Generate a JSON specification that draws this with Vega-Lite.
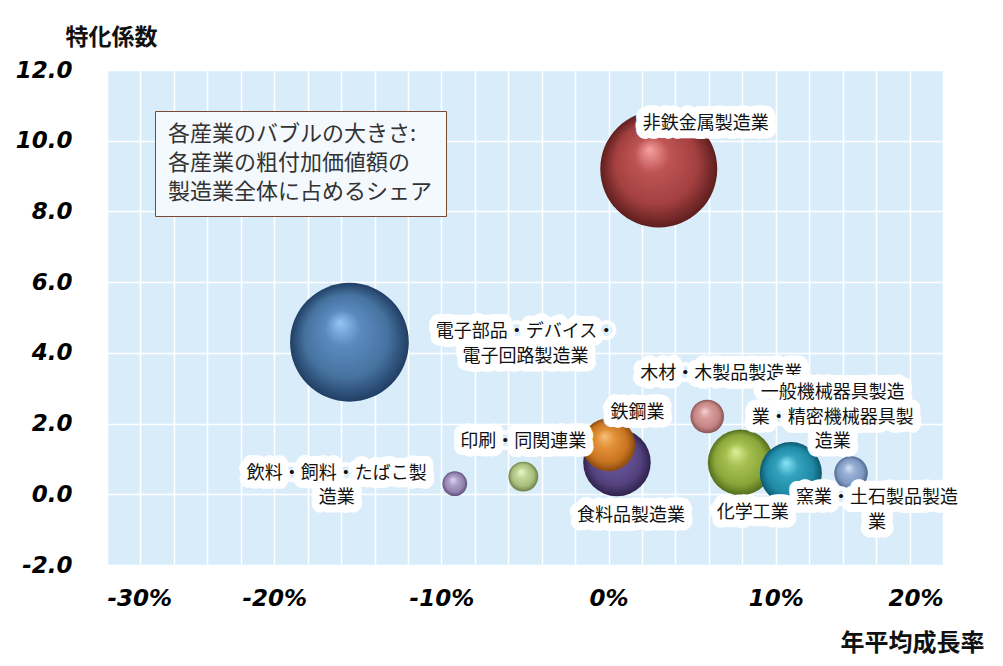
{
  "$schema": "https://vega.github.io/schema/vega-lite/v6.json",
  "width": 836,
  "height": 495,
  "autosize": {"type": "none"},
  "padding": {"left": 107, "top": 70, "right": 60, "bottom": 101},
  "background": "white",
  "config": {
    "view": {"fill": "#d9ecfa", "stroke": null},
    "text": {"font": "Noto Sans CJK JP", "fontSize": 18, "lineBreak": "\n", "lineHeight": 24.5, "baseline": "middle", "align": "center", "fill": "#111111"},
    "style": {
      "halo": {"stroke": "white", "strokeWidth": 16, "strokeJoin": "round", "fill": "white"}
    }
  },
  "data": {
    "values": [
      {"name": "電子部品・デバイス・電子回路製造業", "label": "電子部品・デバイス・\n電子回路製造業", "growth": -15.5, "coef": 4.3, "share": 30.0},
      {"name": "非鉄金属製造業", "label": "非鉄金属製造業", "growth": 3.0, "coef": 9.2, "share": 29.1},
      {"name": "飲料・飼料・たばこ製造業", "label": "飲料・飼料・たばこ製\n造業", "growth": -9.2, "coef": 0.3, "share": 1.3},
      {"name": "印刷・同関連業", "label": "印刷・同関連業", "growth": -5.1, "coef": 0.5, "share": 1.9},
      {"name": "食料品製造業", "label": "食料品製造業", "growth": 0.5, "coef": 0.9, "share": 9.7},
      {"name": "鉄鋼業", "label": "鉄鋼業", "growth": 0.0, "coef": 1.4, "share": 6.0},
      {"name": "木材・木製品製造業", "label": "木材・木製品製造業", "growth": 5.9, "coef": 2.2, "share": 2.4},
      {"name": "化学工業", "label": "化学工業", "growth": 7.9, "coef": 0.9, "share": 9.2},
      {"name": "一般機械器具製造業・精密機械器具製造業", "label": "一般機械器具製造\n業・精密機械器具製\n造業", "growth": 10.9, "coef": 0.6, "share": 8.2},
      {"name": "窯業・土石製品製造業", "label": "窯業・土石製品製造\n業", "growth": 14.5, "coef": 0.6, "share": 2.4}
    ]
  },
  "encoding": {
    "x": {
      "field": "growth", "type": "quantitative",
      "scale": {"domain": [-30, 20], "nice": false, "zero": false},
      "axis": {
        "values": [-30, -28, -26, -24, -22, -20, -18, -16, -14, -12, -10, -8, -6, -4, -2, 0, 2, 4, 6, 8, 10, 12, 14, 16, 18, 20],
        "labelExpr": "datum.value % 10 === 0 ? datum.value + '%' : ''",
        "labelOverlap": false,
        "grid": true, "gridColor": "white", "gridWidth": 1.5, "gridOpacity": 1,
        "ticks": false, "domain": false,
        "labelFont": "DejaVu Sans", "labelFontSize": 23, "labelFontWeight": "bold", "labelFontStyle": "italic", "labelColor": "#000000", "labelPadding": 22,
        "title": "年平均成長率", "titleX": 805, "titleY": 78, "titleAlign": "center", "titleBaseline": "middle",
        "titleFont": "Noto Sans CJK JP", "titleFontSize": 24, "titleFontWeight": "bold", "titleColor": "#111111"
      }
    },
    "y": {
      "field": "coef", "type": "quantitative",
      "scale": {"domain": [-2, 12], "nice": false, "zero": false},
      "axis": {
        "values": [-2, 0, 2, 4, 6, 8, 10, 12],
        "labelExpr": "replace(format(datum.value, '.1f'), '−', '-')",
        "grid": true, "gridColor": "white", "gridWidth": 1.5, "gridOpacity": 1,
        "ticks": false, "domain": false,
        "labelFont": "DejaVu Sans", "labelFontSize": 23, "labelFontWeight": "bold", "labelFontStyle": "italic", "labelColor": "#000000", "labelPadding": 35,
        "title": "特化係数", "titleAngle": 0, "titleX": 4, "titleY": -33, "titleAlign": "center", "titleBaseline": "middle",
        "titleFont": "Noto Sans CJK JP", "titleFontSize": 23, "titleFontWeight": "bold", "titleColor": "#111111"
      }
    }
  },
  "layer": [
    {
      "mark": {"type": "point", "shape": "circle", "filled": true, "opacity": 1, "strokeWidth": 0},
      "encoding": {
        "size": {
          "field": "share", "type": "quantitative",
          "scale": {"domain": [0, 30], "range": [0, 14103]},
          "legend": {
            "values": [],
            "orient": "none", "legendX": 48, "legendY": 41,
            "title": ["各産業のバブルの大きさ:", "各産業の粗付加価値額の", "製造業全体に占めるシェア"],
            "titleFont": "Noto Sans CJK JP", "titleFontSize": 22, "titleFontWeight": "normal", "titleColor": "#333333", "titleLineHeight": 29, "titleLimit": 500, "titlePadding": 0,
            "padding": 13, "strokeColor": "#7a4a30", "fillColor": "#f4f9fe"
          }
        },
        "fill": {
          "condition": [
            {"test": "datum.name === '電子部品・デバイス・電子回路製造業'", "value": {"gradient": "radial", "x1": 0.42, "y1": 0.33, "r1": 0, "x2": 0.5, "y2": 0.5, "r2": 0.5, "stops": [{"offset": 0, "color": "#94c4f4"}, {"offset": 0.3, "color": "#5a8ac0"}, {"offset": 0.7, "color": "#46729f"}, {"offset": 1, "color": "#203e64"}]}},
            {"test": "datum.name === '非鉄金属製造業'", "value": {"gradient": "radial", "x1": 0.42, "y1": 0.33, "r1": 0, "x2": 0.5, "y2": 0.5, "r2": 0.5, "stops": [{"offset": 0, "color": "#f8a0a0"}, {"offset": 0.3, "color": "#be5454"}, {"offset": 0.7, "color": "#a44040"}, {"offset": 1, "color": "#5e1e1e"}]}},
            {"test": "datum.name === '飲料・飼料・たばこ製造業'", "value": {"gradient": "radial", "x1": 0.42, "y1": 0.33, "r1": 0, "x2": 0.5, "y2": 0.5, "r2": 0.5, "stops": [{"offset": 0, "color": "#e2daf2"}, {"offset": 0.35, "color": "#b0a2cc"}, {"offset": 0.75, "color": "#9484b0"}, {"offset": 1, "color": "#5e5078"}]}},
            {"test": "datum.name === '印刷・同関連業'", "value": {"gradient": "radial", "x1": 0.42, "y1": 0.33, "r1": 0, "x2": 0.5, "y2": 0.5, "r2": 0.5, "stops": [{"offset": 0, "color": "#eef8cc"}, {"offset": 0.35, "color": "#c2d698"}, {"offset": 0.75, "color": "#a6bc7c"}, {"offset": 1, "color": "#6e8044"}]}},
            {"test": "datum.name === '食料品製造業'", "value": {"gradient": "radial", "x1": 0.42, "y1": 0.33, "r1": 0, "x2": 0.5, "y2": 0.5, "r2": 0.5, "stops": [{"offset": 0, "color": "#9a88c8"}, {"offset": 0.35, "color": "#685498"}, {"offset": 0.75, "color": "#54427e"}, {"offset": 1, "color": "#30224e"}]}},
            {"test": "datum.name === '鉄鋼業'", "value": {"gradient": "radial", "x1": 0.42, "y1": 0.33, "r1": 0, "x2": 0.5, "y2": 0.5, "r2": 0.5, "stops": [{"offset": 0, "color": "#f8c078"}, {"offset": 0.35, "color": "#e29038"}, {"offset": 0.75, "color": "#c87420"}, {"offset": 1, "color": "#8a4a10"}]}},
            {"test": "datum.name === '木材・木製品製造業'", "value": {"gradient": "radial", "x1": 0.42, "y1": 0.33, "r1": 0, "x2": 0.5, "y2": 0.5, "r2": 0.5, "stops": [{"offset": 0, "color": "#f6d2d2"}, {"offset": 0.35, "color": "#d89c9c"}, {"offset": 0.75, "color": "#c48484"}, {"offset": 1, "color": "#8a5454"}]}},
            {"test": "datum.name === '化学工業'", "value": {"gradient": "radial", "x1": 0.42, "y1": 0.33, "r1": 0, "x2": 0.5, "y2": 0.5, "r2": 0.5, "stops": [{"offset": 0, "color": "#dcf09a"}, {"offset": 0.35, "color": "#a6c050"}, {"offset": 0.75, "color": "#8aa63a"}, {"offset": 1, "color": "#546e1c"}]}},
            {"test": "datum.name === '一般機械器具製造業・精密機械器具製造業'", "value": {"gradient": "radial", "x1": 0.42, "y1": 0.33, "r1": 0, "x2": 0.5, "y2": 0.5, "r2": 0.5, "stops": [{"offset": 0, "color": "#8ae6f8"}, {"offset": 0.35, "color": "#34a2be"}, {"offset": 0.75, "color": "#208aa6"}, {"offset": 1, "color": "#0e5870"}]}},
            {"test": "datum.name === '窯業・土石製品製造業'", "value": {"gradient": "radial", "x1": 0.42, "y1": 0.33, "r1": 0, "x2": 0.5, "y2": 0.5, "r2": 0.5, "stops": [{"offset": 0, "color": "#d4e2f6"}, {"offset": 0.35, "color": "#98b0d4"}, {"offset": 0.75, "color": "#7e98c0"}, {"offset": 1, "color": "#50688e"}]}}
          ],
          "value": "#888888"
        }
      }
    },
    {"transform": [{"filter": "datum.name === '非鉄金属製造業'"}], "encoding": {"text": {"field": "label"}}, "layer": [
      {"mark": {"type": "text", "style": "halo", "dx": 47, "dy": -45}},
      {"mark": {"type": "text", "dx": 47, "dy": -45}}
    ]},
    {"transform": [{"filter": "datum.name === '電子部品・デバイス・電子回路製造業'"}], "encoding": {"text": {"field": "label"}}, "layer": [
      {"mark": {"type": "text", "style": "halo", "dx": 176, "dy": -10}},
      {"mark": {"type": "text", "dx": 176, "dy": -10}}
    ]},
    {"transform": [{"filter": "datum.name === '飲料・飼料・たばこ製造業'"}], "encoding": {"text": {"field": "label"}}, "layer": [
      {"mark": {"type": "text", "style": "halo", "dx": -118, "dy": -10}},
      {"mark": {"type": "text", "dx": -118, "dy": -10}}
    ]},
    {"transform": [{"filter": "datum.name === '印刷・同関連業'"}], "encoding": {"text": {"field": "label"}}, "layer": [
      {"mark": {"type": "text", "style": "halo", "dx": 0, "dy": -35}},
      {"mark": {"type": "text", "dx": 0, "dy": -35}}
    ]},
    {"transform": [{"filter": "datum.name === '鉄鋼業'"}], "encoding": {"text": {"field": "label"}}, "layer": [
      {"mark": {"type": "text", "style": "halo", "dx": 29, "dy": -32}},
      {"mark": {"type": "text", "dx": 29, "dy": -32}}
    ]},
    {"transform": [{"filter": "datum.name === '食料品製造業'"}], "encoding": {"text": {"field": "label"}}, "layer": [
      {"mark": {"type": "text", "style": "halo", "dx": 14, "dy": 54}},
      {"mark": {"type": "text", "dx": 14, "dy": 54}}
    ]},
    {"transform": [{"filter": "datum.name === '木材・木製品製造業'"}], "encoding": {"text": {"field": "label"}}, "layer": [
      {"mark": {"type": "text", "style": "halo", "dx": 14, "dy": -43}},
      {"mark": {"type": "text", "dx": 14, "dy": -43}}
    ]},
    {"transform": [{"filter": "datum.name === '一般機械器具製造業・精密機械器具製造業'"}], "encoding": {"text": {"field": "label"}}, "layer": [
      {"mark": {"type": "text", "style": "halo", "dx": 42, "dy": -80}},
      {"mark": {"type": "text", "dx": 42, "dy": -80}}
    ]},
    {"transform": [{"filter": "datum.name === '化学工業'"}], "encoding": {"text": {"field": "label"}}, "layer": [
      {"mark": {"type": "text", "style": "halo", "dx": 12, "dy": 51}},
      {"mark": {"type": "text", "dx": 12, "dy": 51}}
    ]},
    {"transform": [{"filter": "datum.name === '窯業・土石製品製造業'"}], "encoding": {"text": {"field": "label"}}, "layer": [
      {"mark": {"type": "text", "style": "halo", "dx": 26, "dy": 25}},
      {"mark": {"type": "text", "dx": 26, "dy": 25}}
    ]}
  ]
}
